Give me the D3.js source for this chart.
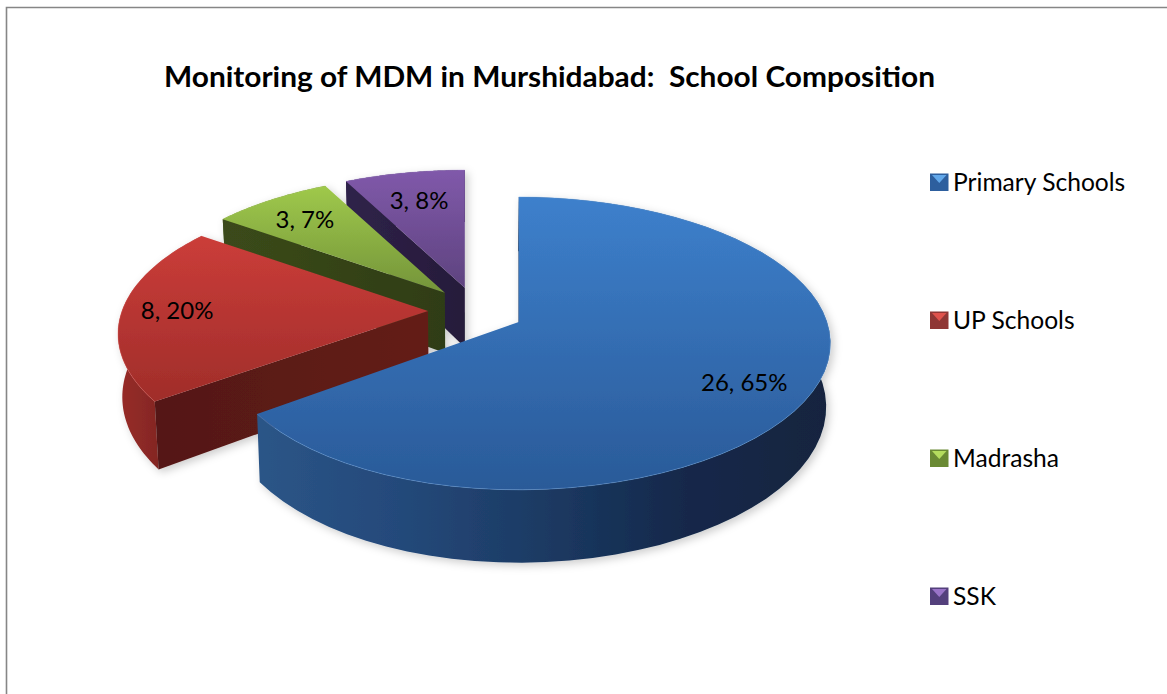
<!DOCTYPE html>
<html><head><meta charset="utf-8">
<script src="https://cdn.jsdelivr.net/npm/d3@7"></script>
<style>html,body{margin:0;padding:0;background:#fff}svg{display:block}text{font-family:Lato,Carlito,Calibri,sans-serif;fill:#000}</style>
</head><body><svg id="c" width="1167" height="694"></svg>
<script>
const titleText = "Monitoring of MDM in Murshidabad:  School Composition";
const categories = ["Primary Schools","UP Schools","Madrasha","SSK"];
const values = [26,8,3,3];
const valueLabels = ["26, 65%","8, 20%","3, 7%","3, 8%"];
const topColors = [["#3d80cc","#2a5a98"],["#cb3d39","#a02d2a"],["#9fc94b","#74943a"],["#8059aa","#5e437f"]];
const wallColors = [["#2b5587","#24497a","#1c3a63","#12284a","#12243e"],["#982d29","#8a2825","#7a2320","#6a1e1b"],["#4a5f20","#3a4a1a","#3a4a1a","#3a4a1a"],["#3a2a58","#2e2145","#2e2145","#2e2145"]];
const faceColors = [["#1c3a63","#16304f"],["#541815","#641d19"],["#3b4a1a","#2f3d16"],["#2f2249","#261b3a"]];
const rimColors = ["#6aa5e6","#e2605a","#b9dc70","#a07fc8"];
const legendLight = ["#62a8ea","#e0524c","#b4dc5e","#9a74c8"];
const legendDark = ["#2d5f9e","#8f3634","#6a8a34","#54407c"];
const labelRadius = [0.8,0.82,0.77,0.73];
const labelAngle = [120,270,318.6,346.5];
const radiusX = [298,306,306,306];
const radiusY = [141.7,139.5,139.5,139.5];
const perspective = [0.145,0.16,0.16,0.16];
const tiltX = [0.022,0,0,0];

const W = 1167, H = 694;
const cx = 476, cy = 311, explodeX = 48, explodeY = 24, explode = 0.17, depth = 61.5, shrink = 0.012;

const svg = d3.select("#c");
const defs = svg.append("defs");
const shadow = defs.append("filter").attr("id","sh").attr("x","-10%").attr("y","-10%").attr("width","125%").attr("height","125%");
shadow.append("feDropShadow").attr("dx",3).attr("dy",3).attr("stdDeviation",4).attr("flood-color","#000").attr("flood-opacity",0.2);

function grad(id, cols, horizontal){
  const g = defs.append("linearGradient").attr("id",id).attr("x1",0).attr("y1",0)
    .attr("x2",horizontal?1:0).attr("y2",horizontal?0:1);
  cols.forEach((c,i)=>g.append("stop").attr("offset",i/(cols.length-1)).attr("stop-color",c));
  return `url(#${id})`;
}

// frame
svg.append("path").attr("d",`M6.5,${H} L6.5,7.5 L${W},7.5`).attr("fill","none").attr("stroke","#868686").attr("stroke-width",1.6);

svg.append("text").attr("x",164).attr("y",87).attr("font-size",28).attr("font-weight",700)
  .attr("textLength",771).attr("lengthAdjust","spacingAndGlyphs").style("white-space","pre").text(titleText);

const arcs = d3.pie().sort(null).startAngle(0).endAngle(2*Math.PI)(values);

function geom(d,i){
  const mid = (d.startAngle+d.endAngle)/2;
  const ax = cx + explodeX*Math.sin(mid), ay = cy - explodeY*Math.cos(mid);
  const v0 = -explode*Math.cos(mid);
  const rx = radiusX[i], ry = radiusY[i], q = tiltX[i], p = perspective[i];
  function pt(theta, r){
    const du = r*Math.sin(theta), dv = -r*Math.cos(theta);
    const wy = 1 - p*(v0+dv), wx = wy - q*du;
    return [ax + rx*du/wx, ay + ry*dv/wy, wy];
  }
  const drop = q => [cx + (q[0]-cx)*(1-shrink), q[1] + depth/q[2]];
  return {mid, pt, drop, apex: pt(0,0)};
}
const line = d3.line();
const xy = p => [p[0],p[1]];
const order = [3,2,1,0];
const layer = svg.append("g").attr("filter","url(#sh)");
order.forEach(i=>{
  const d = arcs[i], g = geom(d,i);
  const n = 60;
  const angles = d3.range(n+1).map(k=>d.startAngle+(d.endAngle-d.startAngle)*k/n);
  const rim = angles.map(a=>g.pt(a,1));
  const rimB = rim.map(g.drop);
  const group = layer.append("g");
  // outer wall
  group.append("path").attr("d",line(rim.concat(rimB.slice().reverse()).map(xy))+"Z")
    .attr("fill",grad("w"+i,wallColors[i],true));
  // the radial face at the start edge is the one turned toward the viewer
  const tip = rim[0];
  group.append("path").attr("d",line([g.apex,tip,g.drop(tip),g.drop(g.apex)].map(xy))+"Z")
    .attr("fill",grad("f"+i,faceColors[i],true));
  // top surface
  group.append("path").attr("d",line([g.apex].concat(rim).map(xy))+"Z")
    .attr("fill",grad("t"+i,topColors[i],false));
  group.append("path").attr("d",line(rim.map(xy))).attr("fill","none")
    .attr("stroke",rimColors[i]).attr("stroke-width",1).attr("stroke-opacity",0.4);
});
// data labels
arcs.forEach((d,i)=>{
  const g = geom(d,i), p = g.pt(labelAngle[i]*Math.PI/180,labelRadius[i]);
  svg.append("text").attr("x",p[0]).attr("y",p[1]+8).attr("text-anchor","middle").attr("font-size",24).text(valueLabels[i]);
});
// legend
const legendY = d3.scalePoint().domain(categories).range([182,596]);
categories.forEach((c,i)=>{
  const y = legendY(c), g = svg.append("g");
  g.append("rect").attr("x",930).attr("y",y-8.5).attr("width",18.5).attr("height",17.5).attr("fill",legendDark[i]);
  g.append("path").attr("d",line([[932,y-7],[946.5,y-7],[939.25,y+1]])+"Z").attr("fill",legendLight[i]);
  g.append("text").attr("x",953).attr("y",y+8.8).attr("font-size",24.6).text(c);
});
</script></body></html>
